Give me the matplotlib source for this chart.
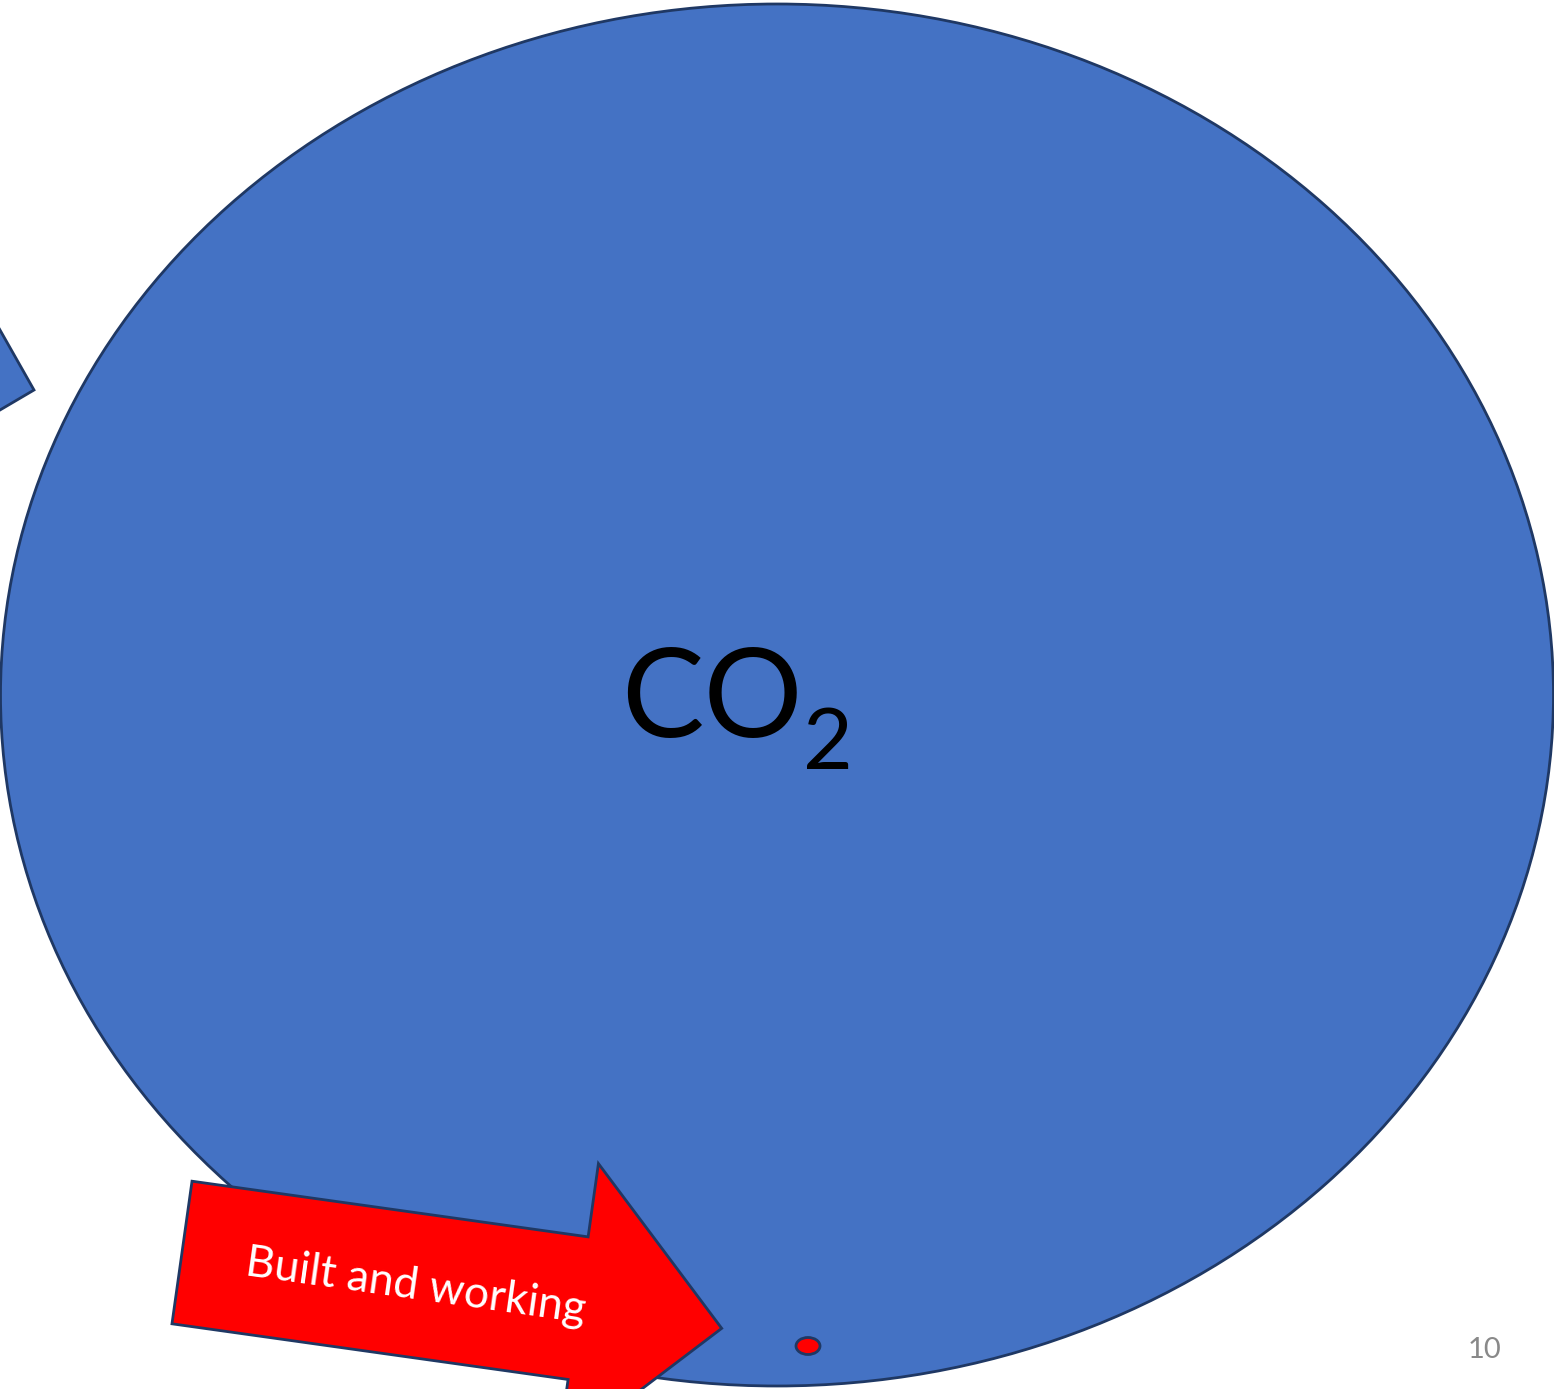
import numpy as np
import matplotlib

matplotlib.use("Agg")

import matplotlib.pyplot as plt
from matplotlib.patches import Ellipse, Polygon

W, H = 1554, 1389

BLUE = "#4472C4"
EDGE = "#1F3864"
RED = "#FF0000"

# big ellipse: centre, width, height (pixels)
big_centre = [777, 695]
big_size = [1553, 1382]

# small red dot
dot_centre = [808, 1346]
dot_size = [24, 17]

# red arrow: tail centre, angle, shaft len, total len, shaft half width, head half width
arrow_tail = [182, 1252.5]
arrow_angle = 8.0
arrow_dims = [400, 545, 72, 146]

# blue arrow tip sticking in from the left
left_tip = [34, 390]
left_edges = [[-34, -60], [-34, 20]]

plt.rcParams["font.family"] = ["Lato", "DejaVu Sans"]


def arrow_poly(tail, angle, dims):
    shaft, total, hw, hh = dims
    a = np.radians(angle)
    u = np.array([np.cos(a), np.sin(a)])
    n = np.array([-np.sin(a), np.cos(a)])
    local = [(0, -hw), (shaft, -hw), (shaft, -hh), (total, 0),
             (shaft, hh), (shaft, hw), (0, hw)]
    return [np.array(tail) + p * u + q * n for p, q in local]


fig = plt.figure(figsize=(W / 100, H / 100), dpi=100)
ax = fig.add_axes([0, 0, 1, 1])
ax.set_xlim(0, W)
ax.set_ylim(H, 0)
ax.axis("off")

tip = np.array(left_tip)
e1 = tip + 4 * np.array(left_edges[0])
e2 = tip + 4 * np.array(left_edges[1])
ax.add_patch(Polygon([e1, tip, e2, (-400, 600), (-400, 0)], closed=True,
                     facecolor=BLUE, edgecolor=EDGE, lw=2))

ax.add_patch(Ellipse(big_centre, big_size[0], big_size[1],
                     facecolor=BLUE, edgecolor=EDGE, lw=2))

ax.add_patch(Polygon(arrow_poly(arrow_tail, arrow_angle, arrow_dims), closed=True,
                     facecolor=RED, edgecolor=EDGE, lw=2))

ax.add_patch(Ellipse(dot_centre, dot_size[0], dot_size[1],
                     facecolor=RED, edgecolor=EDGE, lw=2))

ax.text(712, 702, "CO", fontsize=89, color="black", ha="center", va="center")
ax.text(828, 745, "2", fontsize=62, color="black", ha="center", va="center")

ax.text(416, 1287, "Built and working", fontsize=32, color="white",
        ha="center", va="center", rotation=-arrow_angle, rotation_mode="anchor")

ax.text(1484, 1350, "10", fontsize=21, color="#898989", ha="center", va="center")

fig.savefig("out.png")
